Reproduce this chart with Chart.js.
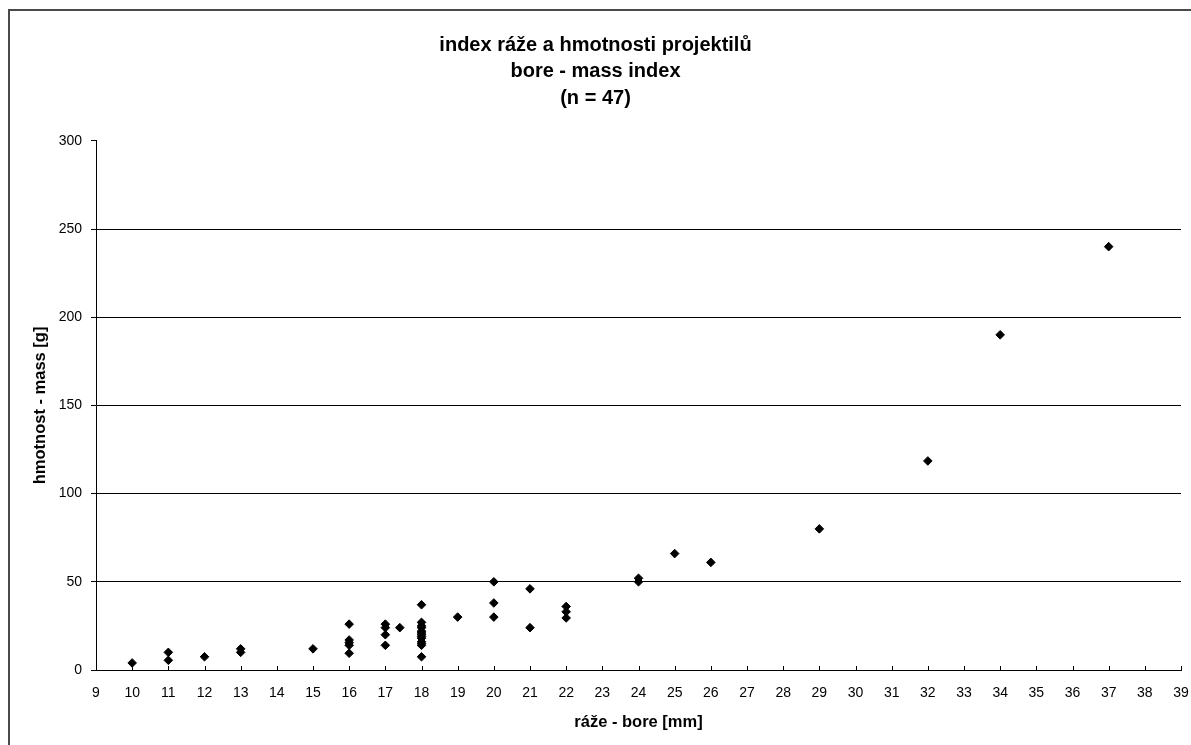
<!DOCTYPE html>
<html>
<head>
<meta charset="utf-8">
<script src="https://cdn.jsdelivr.net/npm/chart.js@4.4.0/dist/chart.umd.min.js"></script>
<style>
html, body { margin: 0; padding: 0; background: #fff; }
</style>
</head>
<body>
<canvas id="boreChart" width="1191" height="745"></canvas>
<script>
// bore [mm] and mass [g] of each projectile
const boreMm = [10, 11, 11, 12, 13, 13, 15,
	16, 16, 16, 16, 16,
	17, 17, 17, 17, 17.4,
	18, 18, 18, 18, 18, 18, 18, 18, 18, 18, 18, 18, 18,
	19, 20, 20, 20, 21, 21, 22, 22, 22,
	24, 24, 25, 26, 29, 32, 34, 37];
const massG = [4, 5.5, 10, 7.5, 10, 12, 12,
	26, 17, 15.5, 14, 9.5,
	26, 24, 20, 14, 24,
	37, 27, 25, 24, 22, 21, 20, 19, 18, 16, 15, 14, 7.5,
	30, 50, 38, 30, 46, 24, 36, 33, 29.5,
	52, 50, 66, 61, 80, 118.5, 190, 240];

const titleLines = ["index ráže a hmotnosti projektilů", "bore - mass index", "(n = 47)"];
const xTitle = "ráže - bore [mm]";
const yTitle = "hmotnost - mass [g]";
const xMin = 9, xMax = 39, xStep = 1;
const yMin = 0, yMax = 300, yStep = 50;

const points = boreMm.map(function(b, i){ return {x: b, y: massG[i]}; });
const fontFamily = "'Liberation Sans', Arial, sans-serif";

// outer frame like the excel chart border
const framePlugin = {
	id: "frame",
	beforeDraw: function(chart){
		const ctx = chart.ctx;
		ctx.save();
		ctx.strokeStyle = "#4a4a4a";
		ctx.lineWidth = 2;
		ctx.beginPath();
		ctx.moveTo(9, chart.height);
		ctx.lineTo(9, 10);
		ctx.lineTo(chart.width, 10);
		ctx.stroke();
		ctx.restore();
	}
};

// small x tick marks pointing inside the plot
const innerTicks = {
	id: "innerTicks",
	afterDraw: function(chart){
		const xs = chart.scales.x;
		const ctx = chart.ctx;
		const bottom = chart.chartArea.bottom;
		ctx.save();
		ctx.strokeStyle = "#000";
		ctx.lineWidth = 1;
		ctx.beginPath();
		xs.ticks.forEach(function(t){
			const px = Math.round(xs.getPixelForValue(t.value)) + 0.5;
			ctx.moveTo(px, bottom);
			ctx.lineTo(px, bottom - 4);
		});
		ctx.stroke();
		ctx.restore();
	}
};

new Chart("boreChart", {
	type: "scatter",
	data: {
		datasets: [{
			data: points,
			pointStyle: "rectRot",
			pointRadius: 4.3,
			backgroundColor: "#000",
			borderColor: "#000",
			borderWidth: 1
		}]
	},
	options: {
		responsive: false,
		animation: false,
		layout: { padding: { left: 0, right: 0, top: 0, bottom: 0 } },
		plugins: {
			legend: { display: false },
			tooltip: { enabled: false },
			title: {
				display: true,
				text: titleLines,
				color: "#000",
				font: { family: fontFamily, size: 20, weight: "bold", lineHeight: 1.33 },
				padding: { top: 32, bottom: 29 }
			}
		},
		scales: {
			x: {
				type: "linear",
				min: xMin,
				max: xMax,
				afterFit: function(s){
					s.height = 75;
					s.paddingRight = 10;
				},
				ticks: {
					stepSize: xStep,
					color: "#000",
					padding: 15,
					maxRotation: 0,
					autoSkip: false,
					font: { family: fontFamily, size: 14 }
				},
				grid: { display: true, drawOnChartArea: false, drawTicks: false },
				border: { display: true, color: "#000", width: 1 },
				title: {
					display: true,
					text: xTitle,
					color: "#000",
					font: { family: fontFamily, size: 16.5, weight: "bold" },
					padding: { top: 0, bottom: 13 }
				}
			},
			y: {
				type: "linear",
				min: yMin,
				max: yMax,
				afterFit: function(s){ s.width = 96; },
				ticks: {
					stepSize: yStep,
					color: "#000",
					padding: 9,
					font: { family: fontFamily, size: 14 }
				},
				grid: {
					color: function(c){ return c.tick && c.tick.value === yMax ? "rgba(0,0,0,0)" : "#000"; },
					tickColor: "#000",
					tickLength: 5,
					lineWidth: 1
				},
				border: { display: true, color: "#000", width: 1 },
				title: {
					display: true,
					text: yTitle,
					color: "#000",
					font: { family: fontFamily, size: 16.5, weight: "bold" },
					padding: { top: 31, bottom: 0 }
				}
			}
		}
	},
	plugins: [framePlugin, innerTicks]
});
</script>
</body>
</html>
